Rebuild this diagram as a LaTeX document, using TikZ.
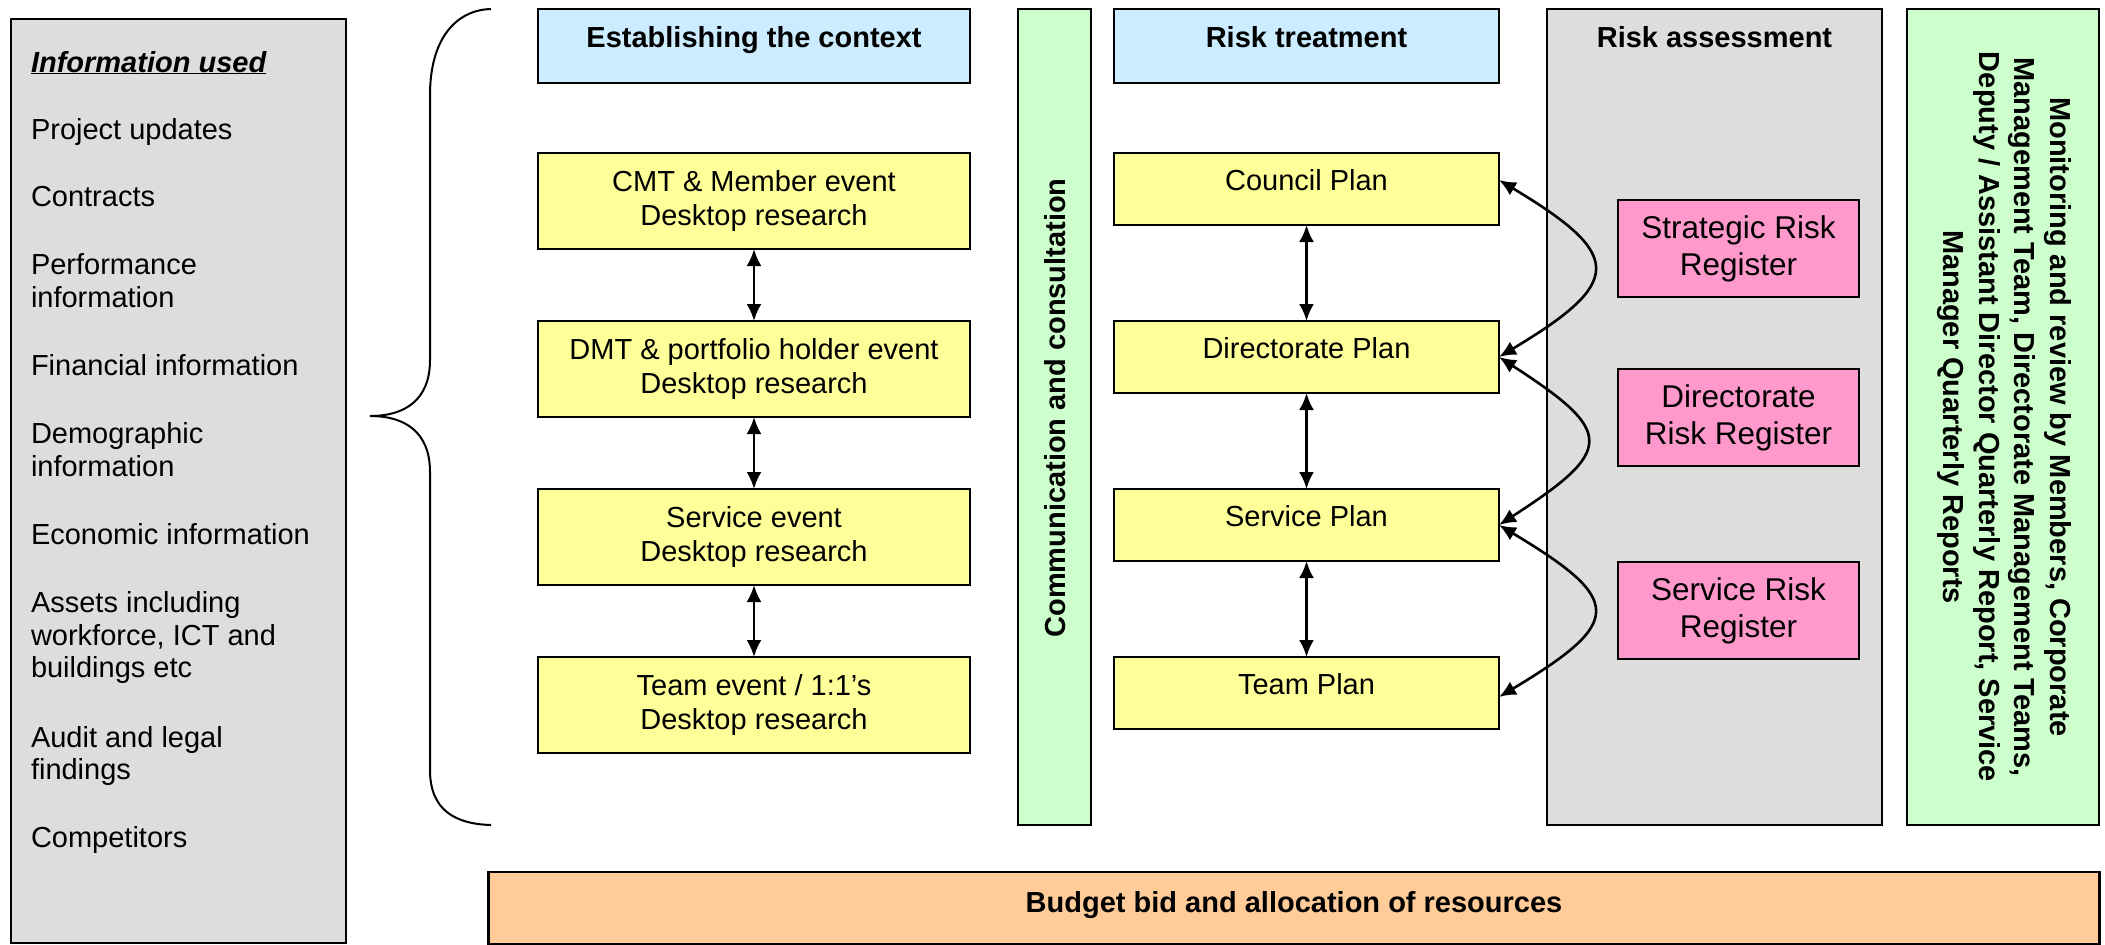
\documentclass[tikz,border=0pt]{standalone}
\usepackage{fontspec}
\setmainfont{Liberation Sans}
\usetikzlibrary{arrows.meta}
\definecolor{infogray}{HTML}{DDDDDD}
\definecolor{hdrblue}{HTML}{CCECFF}
\definecolor{evyellow}{HTML}{FFFF99}
\definecolor{ccgreen}{HTML}{CCFFCC}
\definecolor{regpink}{HTML}{FF99CC}
\definecolor{budorange}{HTML}{FFCC99}
\begin{document}
\begin{tikzpicture}[x=1pt,y=-1pt,
  every node/.style={font=\fontsize{29}{34}\selectfont, inner sep=0pt, outer sep=0pt},
  panel/.style={draw=black, line width=2.4pt, rectangle},
  graypanel/.style={panel, fill=infogray},
  greenpanel/.style={panel, fill=ccgreen},
  hdrbox/.style={panel, fill=hdrblue, minimum height=74pt, text height=21pt, text depth=19pt, font=\fontsize{29}{34}\selectfont\bfseries},
  eventbox/.style={panel, fill=evyellow, minimum width=432pt, minimum height=96pt, align=center},
  planbox/.style={panel, fill=evyellow, minimum width=385pt, minimum height=72pt, text height=21pt, text depth=18pt},
  regbox/.style={panel, fill=regpink, minimum width=241pt, minimum height=97pt, align=center, font=\fontsize{31.5}{37}\selectfont},
  infoline/.style={anchor=base west},
  monline/.style={rotate=-90, anchor=base, font=\fontsize{29}{34}\selectfont\bfseries},
  dblarrow/.style={{Latex[length=17pt,width=15pt]}-{Latex[length=17pt,width=15pt]}, line width=2.6pt},
  bracestyle/.style={line width=2pt}
]
\useasboundingbox (0,0) rectangle (2105,945);

% Information used panel
\node[graypanel, minimum width=335pt, minimum height=924pt] (info) at (178.5,481) {};
\node[infoline] (i0) at (31,72) {\textbf{\textit{\underline{Information used}}}};
\node[infoline] (i1) at (31,139) {Project updates};
\node[infoline] (i2) at (31,206) {Contracts};
\node[infoline] (i3a) at (31,274) {Performance};
\node[infoline] (i3b) at (31,307) {information};
\node[infoline] (i4) at (31,375) {Financial information};
\node[infoline] (i5a) at (31,443) {Demographic};
\node[infoline] (i5b) at (31,476) {information};
\node[infoline] (i6) at (31,544) {Economic information};
\node[infoline] (i7a) at (31,612) {Assets including};
\node[infoline] (i7b) at (31,645) {workforce, ICT and};
\node[infoline] (i7c) at (31,677) {buildings etc};
\node[infoline] (i8a) at (31,747) {Audit and legal};
\node[infoline] (i8b) at (31,779) {findings};
\node[infoline] (i9) at (31,847) {Competitors};

% Brace
\draw[bracestyle] (491,9) .. controls (455,10) and (430,40) .. (430,95) -- (430,360)
  .. controls (430,400) and (405,416) .. (370,416)
  .. controls (405,416) and (430,432) .. (430,472) -- (430,770)
  .. controls (430,810) and (455,824) .. (491,825);

% Establishing the context column
\node[hdrbox, minimum width=432pt] (h1) at (754,46) {Establishing the context};
\node[eventbox] (e1) at (754,201) {CMT \& Member event\\Desktop research};
\node[eventbox] (e2) at (754,369) {DMT \& portfolio holder event\\Desktop research};
\node[eventbox] (e3) at (754,537) {Service event\\Desktop research};
\node[eventbox] (e4) at (754,705) {Team event / 1:1’s\\Desktop research};
\draw[dblarrow] (e1) -- (e2);
\draw[dblarrow] (e2) -- (e3);
\draw[dblarrow] (e3) -- (e4);

% Communication and consultation
\node[greenpanel, minimum width=73pt, minimum height=816pt] (comm) at (1054.5,417) {};
\node[rotate=90, anchor=base, font=\fontsize{29}{34}\selectfont\bfseries] (commt) at (1065,408) {Communication and consultation};

% Risk treatment column
\node[hdrbox, minimum width=385pt] (h2) at (1306.5,46) {Risk treatment};
\node[planbox] (p1) at (1306.5,189) {Council Plan};
\node[planbox] (p2) at (1306.5,357) {Directorate Plan};
\node[planbox] (p3) at (1306.5,525) {Service Plan};
\node[planbox] (p4) at (1306.5,693) {Team Plan};
\draw[dblarrow] (p1) -- (p2);
\draw[dblarrow] (p2) -- (p3);
\draw[dblarrow] (p3) -- (p4);

% Risk assessment
\node[graypanel, minimum width=335pt, minimum height=816pt] (ra) at (1714.5,417) {};
\node[anchor=base, font=\fontsize{29}{34}\selectfont\bfseries] (rat) at (1714.5,47) {Risk assessment};
\node[regbox] (r1) at (1738.5,248.5) {Strategic Risk\\Register};
\node[regbox] (r2) at (1738.5,417.5) {Directorate\\Risk Register};
\node[regbox] (r3) at (1738.5,610.5) {Service Risk\\Register};

% Curved links between plans
\draw[dblarrow] ([yshift=9pt]p1.east) .. controls +(125,75) and +(125,-75) .. (p2.east);
\draw[dblarrow] (p2.east) .. controls +(116,75) and +(116,-75) .. (p3.east);
\draw[dblarrow] (p3.east) .. controls +(125,75) and +(125,-75) .. ([yshift=-4pt]p4.east);

% Monitoring and review
\node[greenpanel, minimum width=192pt, minimum height=816pt] (mon) at (2003,417) {};
\node[monline] (m1) at (2050,417) {Monitoring and review by Members, Corporate};
\node[monline] (m2) at (2014.5,417) {Management Team, Directorate Management Teams,};
\node[monline] (m3) at (1979,417) {Deputy / Assistant Director Quarterly Report, Service};
\node[monline] (m4) at (1943.5,417) {Manager Quarterly Reports};

% Budget
\node[panel, fill=budorange, minimum width=1611pt, minimum height=72pt, text height=21pt, text depth=13pt, font=\fontsize{29}{34}\selectfont\bfseries] (bud) at (1294,908) {Budget bid and allocation of resources};
\end{tikzpicture}
\end{document}
